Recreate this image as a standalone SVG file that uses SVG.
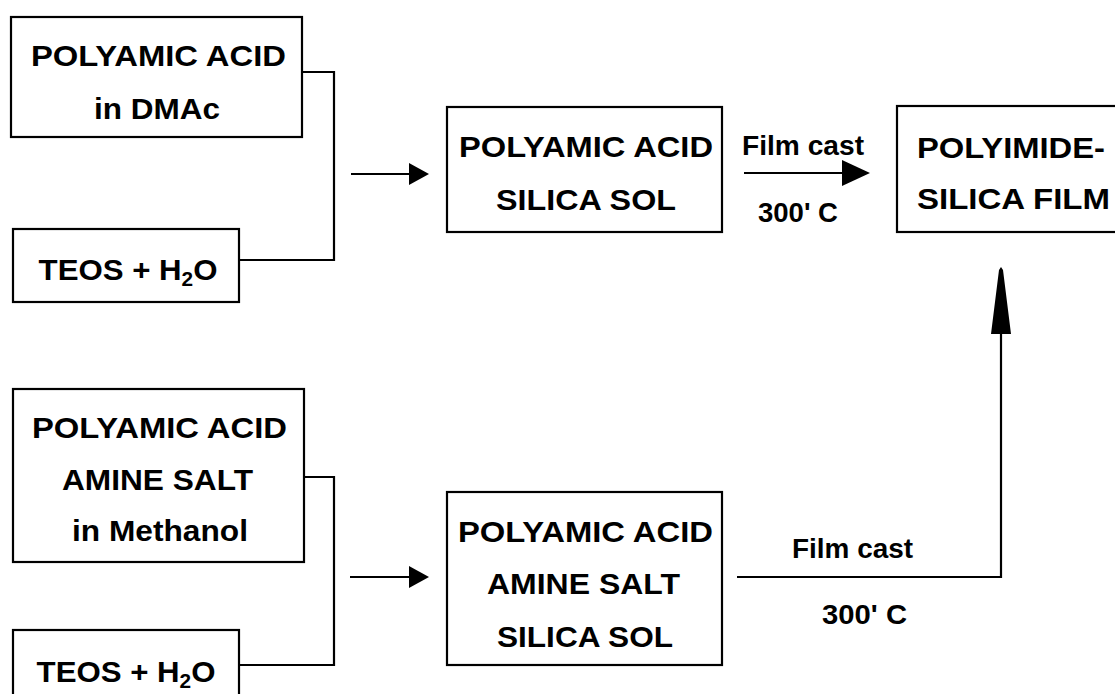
<svg xmlns="http://www.w3.org/2000/svg" width="1115" height="694" viewBox="0 0 1115 694">
<style>
.box{fill:#fff;stroke:#000;stroke-width:2.2}
.t{font-family:"Liberation Sans",Arial,sans-serif;font-weight:bold;font-size:30px;fill:#000;text-anchor:middle}
.l{font-family:"Liberation Sans",Arial,sans-serif;font-weight:bold;font-size:27px;fill:#000;text-anchor:middle}
.c{fill:none;stroke:#000;stroke-width:2.2}
.h{fill:#000;stroke:none}
</style>
<rect width="1115" height="694" fill="#fff"/>
<g id="n1">
<rect class="box" x="11" y="17" width="291" height="120"/>
<text class="t" x="158.5" y="66" textLength="255" lengthAdjust="spacingAndGlyphs">POLYAMIC ACID</text>
<text class="t" x="157" y="119" textLength="126" lengthAdjust="spacingAndGlyphs">in DMAc</text>
</g>
<g id="n2">
<rect class="box" x="13" y="229" width="226" height="73"/>
<text class="t" transform="translate(128,280) scale(1.04,1)" x="0" y="0">TEOS + H<tspan font-size="20" dy="6">2</tspan><tspan dy="-6">O</tspan></text>
</g>
<g id="n3">
<rect class="box" x="447" y="107" width="275" height="125"/>
<text class="t" x="586" y="157" textLength="254" lengthAdjust="spacingAndGlyphs">POLYAMIC ACID</text>
<text class="t" x="586" y="210" textLength="180" lengthAdjust="spacingAndGlyphs">SILICA SOL</text>
</g>
<g id="n4">
<rect class="box" x="897" y="106" width="240" height="126"/>
<text class="t" x="917" y="158" style="text-anchor:start" textLength="188" lengthAdjust="spacingAndGlyphs">POLYIMIDE-</text>
<text class="t" x="917" y="209" style="text-anchor:start" textLength="193" lengthAdjust="spacingAndGlyphs">SILICA FILM</text>
</g>
<g id="n5">
<rect class="box" x="13" y="389" width="291" height="173"/>
<text class="t" x="159.5" y="438" textLength="255" lengthAdjust="spacingAndGlyphs">POLYAMIC ACID</text>
<text class="t" x="157.5" y="490" textLength="191" lengthAdjust="spacingAndGlyphs">AMINE SALT</text>
<text class="t" x="160" y="541" textLength="176" lengthAdjust="spacingAndGlyphs">in Methanol</text>
</g>
<g id="n6">
<rect class="box" x="13" y="630" width="226" height="80"/>
<text class="t" transform="translate(126,682) scale(1.04,1)" x="0" y="0">TEOS + H<tspan font-size="20" dy="6">2</tspan><tspan dy="-6">O</tspan></text>
</g>
<g id="n7">
<rect class="box" x="447" y="492" width="275" height="173"/>
<text class="t" x="585.5" y="542" textLength="255" lengthAdjust="spacingAndGlyphs">POLYAMIC ACID</text>
<text class="t" x="583.5" y="594" textLength="193" lengthAdjust="spacingAndGlyphs">AMINE SALT</text>
<text class="t" x="585" y="647" textLength="176" lengthAdjust="spacingAndGlyphs">SILICA SOL</text>
</g>
<g id="connectors">
<polyline class="c" points="302,72 334,72 334,260 239,260"/>
<line class="c" x1="351" y1="174" x2="412" y2="174"/>
<polygon class="h" points="409,163 429,174 409,185"/>
<line class="c" x1="744" y1="173" x2="844" y2="173" stroke-width="2.6"/>
<polygon class="h" points="842,160 870,173 842,186"/>
<polyline class="c" points="304,477 334,477 334,665 239,665"/>
<line class="c" x1="350" y1="577" x2="412" y2="577"/>
<polygon class="h" points="409,566 429,577 409,588"/>
<polyline class="c" points="737,577 1001,577 1001,330" stroke-width="2.6"/>
<polygon class="h" points="991,334 999,270 1001,267 1003,270 1011,334"/>
<text class="l" x="803" y="155" textLength="122" lengthAdjust="spacingAndGlyphs">Film cast</text>
<text class="l" x="798" y="222" textLength="80" lengthAdjust="spacingAndGlyphs">300' C</text>
<text class="l" x="852.5" y="558" textLength="121" lengthAdjust="spacingAndGlyphs">Film cast</text>
<text class="l" x="864.5" y="624" textLength="85" lengthAdjust="spacingAndGlyphs">300' C</text>
</g>
</svg>
